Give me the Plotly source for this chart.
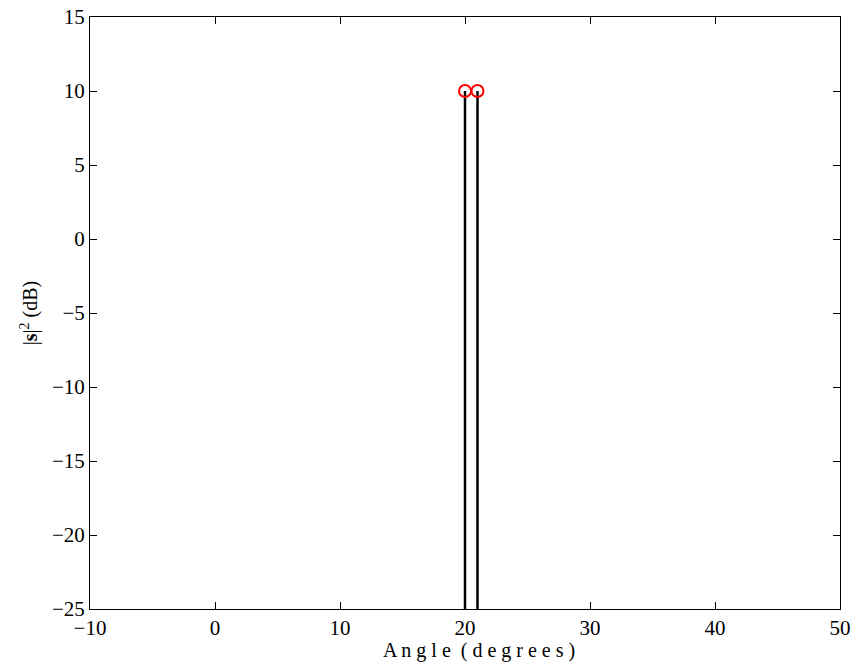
import plotly.graph_objects as go

angles = [20, 21]
power_db = [10, 10]
baseline = -25

x_ticks = [-10, 0, 10, 20, 30, 40, 50]
y_ticks = [-25, -20, -15, -10, -5, 0, 5, 10, 15]

fig = go.Figure()

# stems
sx, sy = [], []
for a, p in zip(angles, power_db):
    sx += [a, a, None]
    sy += [baseline, p, None]
fig.add_trace(go.Scatter(x=sx, y=sy, mode="lines",
                         line=dict(color="black", width=2.5),
                         hoverinfo="skip", showlegend=False))
fig.add_trace(go.Scatter(x=angles, y=power_db, mode="markers",
                         marker=dict(symbol="circle-open", color="red", size=12,
                                     line=dict(width=2, color="red")),
                         showlegend=False))

font = dict(family="Liberation Serif, Times New Roman, serif", size=21, color="black")
fig.update_layout(
    width=855, height=667,
    margin=dict(l=90, r=15, t=17, b=58, autoexpand=False),
    plot_bgcolor="white", paper_bgcolor="white",
    font=font,
    xaxis=dict(range=[-10, 50], tickvals=x_ticks,
               ticktext=["\u221210" if v == -10 else str(v) for v in x_ticks],
               tickfont=dict(size=21), automargin=False,
               showgrid=False, zeroline=False, showline=True, linecolor="black",
               linewidth=1, mirror="ticks", ticks="inside", ticklen=7,
               tickcolor="black"),
    yaxis=dict(range=[-25, 15], tickvals=y_ticks,
               ticktext=[("\u2212" + str(-v)) if v < 0 else str(v) for v in y_ticks],
               tickfont=dict(size=21), automargin=False,
               showgrid=False, zeroline=False, showline=True, linecolor="black",
               linewidth=1, mirror="ticks", ticks="inside", ticklen=7,
               tickcolor="black",
               title=dict(text="|<b>s</b>|<sup>2</sup> (dB)", standoff=8,
                          font=dict(size=20))),
    annotations=[dict(text="A n g l e  ( d e g r e e s )", x=0.5, y=0,
                      xref="paper", yref="paper", xanchor="center",
                      yanchor="middle", xshift=14, yshift=-41,
                      showarrow=False, font=dict(size=20))],
)

fig.write_html("out.html", config={"displayModeBar": False},
               post_script="document.body.style.margin='0';")
